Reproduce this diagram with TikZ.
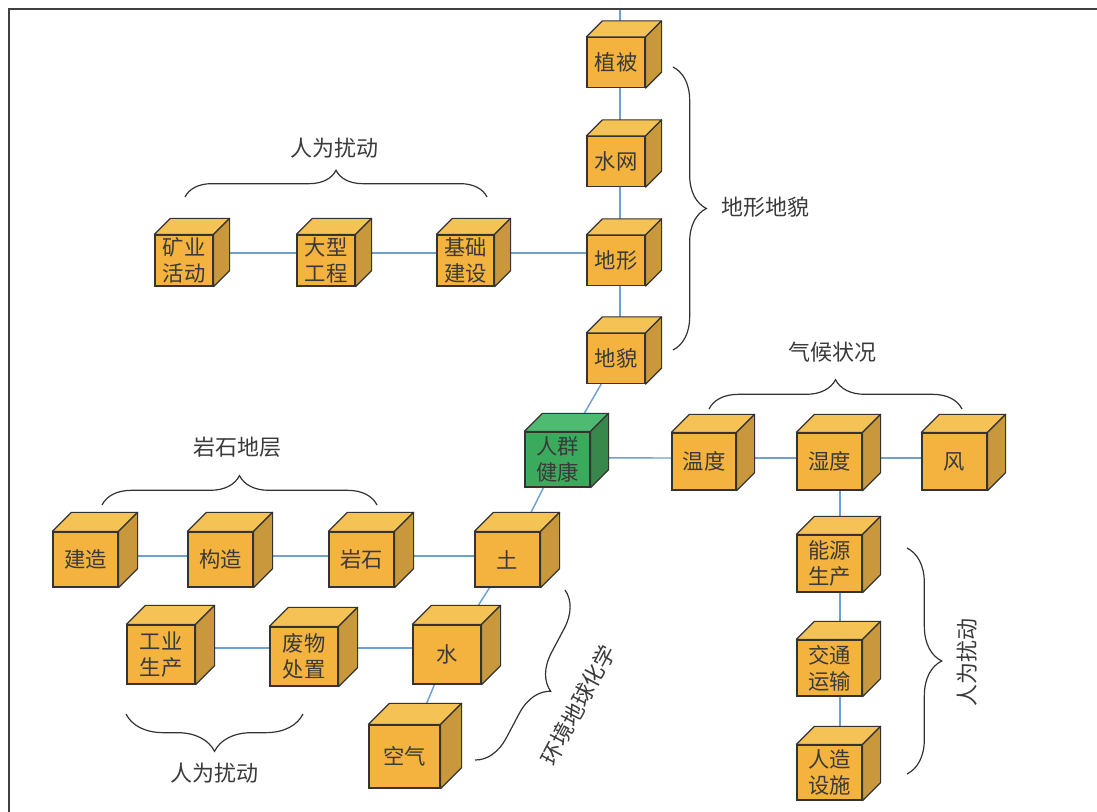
\documentclass[tikz,border=0pt]{standalone}
\usepackage{fontspec}
\newfontfamily\cjk{Noto Sans CJK SC}
\usetikzlibrary{decorations.pathreplacing}
\pgfdeclarelayer{background}
\pgfsetlayers{background,main}

\definecolor{ofront}{RGB}{243,179,62}
\definecolor{otop}{RGB}{245,194,86}
\definecolor{oside}{RGB}{201,152,60}
\definecolor{gfront}{RGB}{60,170,92}
\definecolor{gtop}{RGB}{78,186,114}
\definecolor{gside}{RGB}{56,136,76}
\definecolor{linkc}{RGB}{110,160,208}
\definecolor{inkc}{RGB}{51,51,51}
\definecolor{textc}{RGB}{58,58,58}
\definecolor{framec}{RGB}{64,64,64}

\tikzset{
  cubeface/.style={draw=inkc, line width=0.9pt, inner sep=0pt, align=center,
    text=textc, font={\cjk\fontsize{16}{19.5}\selectfont}},
  cubeedge/.style={draw=inkc, line width=0.9pt, line join=round},
  linkline/.style={draw=linkc, line width=1.1pt},
  lbl/.style={text=textc, inner sep=0pt, font={\cjk\fontsize{16.5}{20}\selectfont}},
  bracec/.style={draw=inkc, line width=0.9pt, decorate},
  framel/.style={draw=framec, line width=1.2pt}
}

\newcommand\cubebox[8]{%
  \node[cubeface, fill=#8front, minimum width=#4*0.75pt, minimum height=#5*0.75pt] (#1) at (#2,#3) {#7};
  \draw[cubeedge, fill=#8top] (#1.north west) -- ++(#6,-#6) -- ([shift={(#6,-#6)}]#1.north east) -- (#1.north east) -- cycle;
  \draw[cubeedge, fill=#8side] (#1.north east) -- ++(#6,-#6) -- ([shift={(#6,-#6)}]#1.south east) -- (#1.south east) -- cycle;
}

\begin{document}
\begin{tikzpicture}[x=0.75pt, y=-0.75pt]
\useasboundingbox (0,0) rectangle (1097,812);

% frame
\coordinate (fbl) at (9,812);
\coordinate (ftl) at (9,9);
\coordinate (ftr) at (1097,9);
\draw[framel] (fbl) -- (ftl) -- (ftr);
\coordinate (topend) at (620,9);

% top column
\cubebox{zhibei}{616}{62.5}{58}{50}{16}{植被}{o}
\cubebox{shuiwang}{616}{161.5}{58}{50}{16}{水网}{o}
\cubebox{dixing}{616}{260.5}{58}{50}{16}{地形}{o}
\cubebox{dimao}{616}{358.5}{58}{50}{16}{地貌}{o}

% top-left row
\cubebox{kuangye}{184}{260.5}{58}{51}{16}{矿业\\活动}{o}
\cubebox{daxing}{326}{260.5}{58}{51}{16}{大型\\工程}{o}
\cubebox{jichu}{465.5}{260.5}{57}{51}{16}{基础\\建设}{o}

% center
\cubebox{renqun}{557.5}{459.5}{65}{55}{18}{人群\\健康}{g}

% climate row
\cubebox{wendu}{704}{461.5}{64}{57}{18}{温度}{o}
\cubebox{shidu}{829.5}{461.5}{65}{57}{18}{湿度}{o}
\cubebox{feng}{954.5}{461.5}{65}{57}{18}{风}{o}

% right column
\cubebox{nengyuan}{829.5}{563.5}{65}{57}{18}{能源\\生产}{o}
\cubebox{jiaotong}{829.5}{668}{65}{56}{18}{交通\\运输}{o}
\cubebox{renzao}{829.5}{772.5}{65}{55}{18}{人造\\设施}{o}

% rock row
\cubebox{tu}{507.5}{559.5}{65}{55}{19}{土}{o}
\cubebox{yanshi}{361.5}{559.5}{65}{55}{19}{岩石}{o}
\cubebox{gouzao}{220.5}{559.5}{65}{55}{19}{构造}{o}
\cubebox{jianzao}{85.5}{559.5}{65}{55}{19}{建造}{o}

% water row
\cubebox{gongye}{161}{654.5}{68}{59}{19}{工业\\生产}{o}
\cubebox{feiwu}{304}{656.5}{68}{59}{19}{废物\\处置}{o}
\cubebox{shui}{447}{654.5}{68}{59}{19}{水}{o}
\cubebox{kongqi}{404.5}{756.5}{71}{63}{21}{空气}{o}

% connectors
\begin{pgfonlayer}{background}
\draw[linkline] (topend) -- ([xshift=3pt]zhibei.center);
\draw[linkline] ([xshift=3pt]zhibei.center) -- ([xshift=3pt]shuiwang.center);
\draw[linkline] ([xshift=3pt]shuiwang.center) -- ([xshift=3pt]dixing.center);
\draw[linkline] ([xshift=3pt]dixing.center) -- ([xshift=3pt]dimao.center);
\draw[linkline] ([yshift=5.6pt]kuangye.center) -- ([yshift=5.6pt]daxing.center);
\draw[linkline] ([yshift=5.6pt]daxing.center) -- ([yshift=5.6pt]jichu.center);
\draw[linkline] ([yshift=5.6pt]jichu.center) -- ([yshift=5.6pt]dixing.center);
\draw[linkline] (dimao) -- (renqun);
\draw[linkline] ([yshift=1.2pt]renqun.center) -- ([yshift=2.6pt]wendu.center);
\draw[linkline] ([yshift=2.6pt]wendu.center) -- ([yshift=2.6pt]shidu.center);
\draw[linkline] ([yshift=2.6pt]shidu.center) -- ([yshift=2.6pt]feng.center);
\draw[linkline] ([xshift=7.9pt]shidu.center) -- ([xshift=7.9pt]nengyuan.center);
\draw[linkline] ([xshift=7.9pt]nengyuan.center) -- ([xshift=7.9pt]jiaotong.center);
\draw[linkline] ([xshift=7.9pt]jiaotong.center) -- ([xshift=7.9pt]renzao.center);
\draw[linkline] (renqun) -- (tu);
\draw[linkline] ([yshift=2.6pt]tu.center) -- ([yshift=2.6pt]yanshi.center);
\draw[linkline] ([yshift=2.6pt]yanshi.center) -- ([yshift=2.6pt]gouzao.center);
\draw[linkline] ([yshift=2.6pt]gouzao.center) -- ([yshift=2.6pt]jianzao.center);
\draw[linkline] (tu) -- (shui);
\draw[linkline] ([yshift=4.9pt]shui.center) -- ([yshift=6.4pt]feiwu.center);
\draw[linkline] ([yshift=6.4pt]feiwu.center) -- ([yshift=4.9pt]gongye.center);
\draw[linkline] (shui) -- (kongqi);
\end{pgfonlayer}

% braces and labels
\draw[bracec, decoration={brace, amplitude=20pt}] (185,197) -- (487,197);
\node[lbl] (l1) at (334,148) {人为扰动};

\draw[bracec, decoration={brace, amplitude=25pt}] (673,67) -- (673,350);
\node[lbl] (l2) at (765,207) {地形地貌};

\draw[bracec, decoration={brace, amplitude=22pt}] (709,409) -- (962,409);
\node[lbl] (l3) at (832,352) {气候状况};

\draw[bracec, decoration={brace, amplitude=22pt}] (102,505) -- (377,505);
\node[lbl] (l4) at (237,447) {岩石地层};

\draw[bracec, decoration={brace, amplitude=28pt}] (303,714) -- (126,714);
\node[lbl] (l5) at (214,773) {人为扰动};

\draw[bracec, decoration={brace, amplitude=26pt}] (907,548) -- (907,774);
\node[lbl, rotate=90] (l6) at (967,663) {人为扰动};

\draw[bracec, decoration={brace, amplitude=26pt}] (565,590) -- (475,760);
\node[lbl, rotate=62] (l7) at (578,705) {环境地球化学};
\end{tikzpicture}
\end{document}
